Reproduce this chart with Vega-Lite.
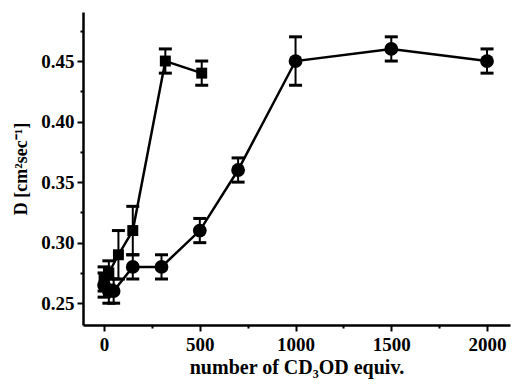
{
  "$schema": "https://vega.github.io/schema/vega-lite/v6.json",
  "width": 427,
  "height": 313,
  "autosize": "none",
  "padding": {"left": 83, "top": 12, "right": 2, "bottom": 64},
  "config": {
    "view": {"stroke": null},
    "font": "Liberation Serif",
    "axis": {
      "domainColor": "black", "domainWidth": 2.5, "tickColor": "black", "tickWidth": 2,
      "labelFont": "Liberation Serif", "labelFontWeight": "bold", "labelFontSize": 19, "labelColor": "black",
      "titleFont": "Liberation Serif", "titleFontWeight": "bold", "titleFontSize": 20, "titleColor": "black",
      "grid": false
    }
  },
  "data": {
    "values": [
      {"series": "square", "n": 0, "D": 0.27, "lo": 0.26, "hi": 0.28},
      {"series": "square", "n": 25, "D": 0.275, "lo": 0.265, "hi": 0.285},
      {"series": "square", "n": 75, "D": 0.29, "lo": 0.27, "hi": 0.31},
      {"series": "square", "n": 150, "D": 0.31, "lo": 0.29, "hi": 0.33},
      {"series": "square", "n": 320, "D": 0.45, "lo": 0.44, "hi": 0.46},
      {"series": "square", "n": 510, "D": 0.44, "lo": 0.43, "hi": 0.45},
      {"series": "circle", "n": 0, "D": 0.265, "lo": 0.255, "hi": 0.275},
      {"series": "circle", "n": 25, "D": 0.26, "lo": 0.25, "hi": 0.27},
      {"series": "circle", "n": 50, "D": 0.26, "lo": 0.25, "hi": 0.27},
      {"series": "circle", "n": 150, "D": 0.28, "lo": 0.27, "hi": 0.29},
      {"series": "circle", "n": 300, "D": 0.28, "lo": 0.27, "hi": 0.29},
      {"series": "circle", "n": 500, "D": 0.31, "lo": 0.30, "hi": 0.32},
      {"series": "circle", "n": 700, "D": 0.36, "lo": 0.35, "hi": 0.37},
      {"series": "circle", "n": 1000, "D": 0.45, "lo": 0.43, "hi": 0.47},
      {"series": "circle", "n": 1500, "D": 0.46, "lo": 0.45, "hi": 0.47},
      {"series": "circle", "n": 2000, "D": 0.45, "lo": 0.44, "hi": 0.46}
    ]
  },
  "resolve": {"axis": {"x": "independent", "y": "independent"}},
  "layer": [
    {
      "mark": {"type": "rule", "opacity": 0},
      "encoding": {
        "x": {"field": "n", "type": "quantitative", "scale": {"domain": [-110, 2120], "nice": false, "zero": false},
          "axis": {"orient": "bottom", "values": [250, 750, 1250, 1750], "labels": false, "title": null, "tickSize": 3, "domain": false}},
        "y": {"field": "D", "type": "quantitative", "scale": {"domain": [0.232, 0.4905], "nice": false, "zero": false},
          "axis": {"orient": "left", "values": [0.275, 0.325, 0.375, 0.425, 0.475], "labels": false, "title": null, "tickSize": 3, "domain": false}}
      }
    },
    {
      "mark": {"type": "errorbar", "color": "black", "opacity": 1, "ticks": {"size": 13, "thickness": 3, "color": "black", "opacity": 1}, "rule": {"strokeWidth": 2, "color": "black", "opacity": 1}},
      "encoding": {
        "x": {"field": "n", "type": "quantitative", "scale": {"domain": [-110, 2120], "nice": false, "zero": false}, "axis": null},
        "y": {"field": "lo", "type": "quantitative", "scale": {"domain": [0.232, 0.4905], "nice": false, "zero": false}, "axis": null},
        "y2": {"field": "hi"},
        "detail": {"field": "series"}
      }
    },
    {
      "mark": {"type": "line", "color": "black", "strokeWidth": 2.5},
      "encoding": {
        "x": {"field": "n", "type": "quantitative", "scale": {"domain": [-110, 2120], "nice": false, "zero": false},
          "axis": {"orient": "bottom", "values": [0, 500, 1000, 1500, 2000], "format": "d", "tickSize": 6, "labelPadding": 4,
            "title": "number of CD\u2083OD equiv.", "titlePadding": 3}},
        "y": {"field": "D", "type": "quantitative", "scale": {"domain": [0.232, 0.4905], "nice": false, "zero": false},
          "axis": {"orient": "left", "values": [0.25, 0.30, 0.35, 0.40, 0.45], "format": ".2f", "tickSize": 6, "labelPadding": 3,
            "title": "D  [cm\u00b2sec\u207b\u00b9]", "titleFontSize": 18, "titlePadding": 10}},
        "detail": {"field": "series"}
      }
    },
    {
      "transform": [{"filter": "datum.series == 'circle'"}],
      "mark": {"type": "point", "shape": "circle", "filled": true, "color": "black", "opacity": 1, "size": 190},
      "encoding": {
        "x": {"field": "n", "type": "quantitative", "scale": {"domain": [-110, 2120], "nice": false, "zero": false}, "axis": null},
        "y": {"field": "D", "type": "quantitative", "scale": {"domain": [0.232, 0.4905], "nice": false, "zero": false}, "axis": null}
      }
    },
    {
      "transform": [{"filter": "datum.series == 'square'"}],
      "mark": {"type": "point", "shape": "square", "filled": true, "color": "black", "opacity": 1, "size": 120},
      "encoding": {
        "x": {"field": "n", "type": "quantitative", "scale": {"domain": [-110, 2120], "nice": false, "zero": false}, "axis": null},
        "y": {"field": "D", "type": "quantitative", "scale": {"domain": [0.232, 0.4905], "nice": false, "zero": false}, "axis": null}
      }
    }
  ]
}
